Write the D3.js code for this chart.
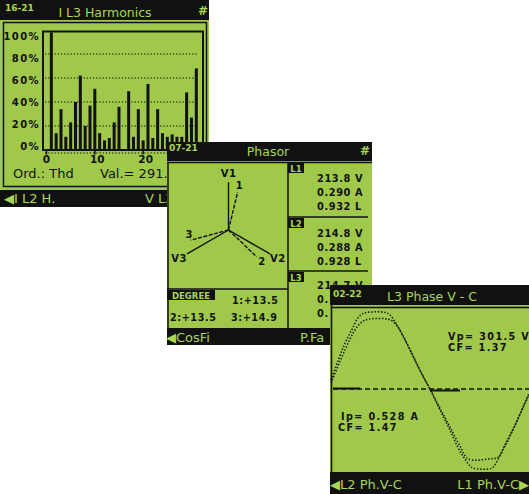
<!DOCTYPE html>
<html><head><meta charset="utf-8">
<script src="https://cdn.jsdelivr.net/npm/d3@7"></script>
<style>
html,body{margin:0;padding:0;background:#fff;}
svg{display:block;}
text{font-family:"DejaVu Sans",sans-serif;}
</style></head><body>
<svg id="c" width="529" height="494"></svg>
<script>
// ---------------- DATA ----------------
// Screen 1: current harmonics
const harmonicOrders = d3.range(1, 32);
const harmonicValues = [98,14,34,11,23,40,62,20,37,51,14,8,10,23,36,0,49,11,34,8,55,10,34,14,11,13,11,11,48,27,68];
const yTicks = [0,20,40,60,80,100];
const yTickLabels = ["0%","20%","40%","60%","80%","100%"];
const xTicks = [0,10,20];
const xTickLabels = ["0","10","20"];

// Screen 2: phasor
const phaseNames = ["1","2","3"];
const voltageAngles = [90,-30,210];
const voltageValues = [213.8,214.8,214.7];
const currentValues = [0.290,0.288,0.291];
const pfValues = [0.932,0.928,0.930];
const currentLag = [13.5,13.5,14.9];

// Screen 3: waveforms  [time ms, value]
const voltageWave = [[0,35],[0.74,114],[1.41,179],[2.09,231],[2.76,281],[3.26,296],[3.6,300],[5.45,300],[5.96,290],[6.64,251],[7.47,192],[8.15,140],[8.82,85],[9.49,35],[10.0,0],[10.68,-56],[11.34,-108],[12.02,-161],[12.7,-219],[13.36,-265],[14.04,-301],[14.37,-310],[16.23,-310],[16.74,-285],[17.4,-232],[18.08,-180],[18.76,-128],[19.42,-69],[20,-17]];
const currentWave = [[0,0.045],[1.41,0.294],[2.42,0.445],[3.1,0.505],[3.77,0.526],[5.79,0.526],[6.46,0.496],[7.14,0.422],[8.15,0.269],[8.99,0.143],[10.0,0],[11.0,-0.143],[12.02,-0.287],[13.03,-0.43],[13.87,-0.528],[15.89,-0.528],[16.9,-0.513],[17.58,-0.43],[18.28,-0.324],[19.09,-0.189],[20,-0.045]];
const vPeak = 301.5, vCF = 1.37, iPeak = 0.528, iCF = 1.47;

// ---------------- STYLE ----------------
const GREEN = "#a0c94b", LCDTXT = "#a9d655", INK = "#111";
const MONO = "'DejaVu Sans Mono',monospace";
const svg = d3.select("#c");

function txt(g, x, y, s, o = {}) {
  return g.append("text").attr("x", x).attr("y", y).text(s)
    .attr("dominant-baseline", "central")
    .attr("text-anchor", o.anchor || "start")
    .attr("font-size", o.size || 12)
    .attr("font-family", o.family || "'DejaVu Sans',sans-serif")
    .attr("font-weight", o.weight || "normal")
    .attr("letter-spacing", o.ls || 0)
    .attr("fill", o.fill || INK);
}
function line(g, x1, y1, x2, y2, w = 1.5, dash = null) {
  const l = g.append("line").attr("x1", x1).attr("y1", y1).attr("x2", x2).attr("y2", y2)
    .attr("stroke", INK).attr("stroke-width", w);
  if (dash) l.attr("stroke-dasharray", dash);
  return l;
}
function rect(g, x, y, w, h, fill) {
  return g.append("rect").attr("x", x).attr("y", y).attr("width", w).attr("height", h).attr("fill", fill);
}

// ---------------- SCREEN 1 ----------------
{
  const g = svg.append("g");
  rect(g, 0, 0, 209, 207, GREEN);
  rect(g, 0, 0, 209, 20, INK);
  rect(g, 0, 190, 209, 17, INK);
  g.append("rect").attr("x", 3.5).attr("y", 22.5).attr("width", 203).attr("height", 164)
    .attr("fill", "none").attr("stroke", INK).attr("stroke-width", 1.5);
  txt(g, 5, 8, "16-21", {size: 9, weight: "bold", fill: LCDTXT, family: MONO});
  txt(g, 105, 12, "I L3 Harmonics", {size: 12.5, anchor: "middle", fill: LCDTXT});
  txt(g, 203, 11, "#", {size: 12, anchor: "middle", weight: "bold", fill: LCDTXT});

  const y = d3.scaleLinear().domain([0, 100]).range([150, 30]);
  const yLab = d3.scaleLinear().domain([0, 100]).range([146, 36]);
  const x = d3.scaleLinear().domain([0, 31]).range([46.5, 196.3]);

  g.selectAll(".grid").data(yTicks.filter(t => t > 0 && t < 100)).enter().append("line")
    .attr("x1", 45).attr("x2", 197).attr("y1", d => y(d)).attr("y2", d => y(d))
    .attr("stroke", INK).attr("stroke-width", 1.2).attr("stroke-dasharray", "1.3,1.9");
  g.append("rect").attr("x", 43).attr("y", 31.5).attr("width", 160).attr("height", y(0) - 31.5)
    .attr("fill", "none").attr("stroke", INK).attr("stroke-width", 2);
  line(g, 45, 153, 197, 153, 1.2, "1.3,1.9");
  g.selectAll(".xt").data(xTicks).enter().append("line")
    .attr("x1", d => x(d)).attr("x2", d => x(d)).attr("y1", 150).attr("y2", 154.5)
    .attr("stroke", INK).attr("stroke-width", 1.5);
  yTicks.forEach((t, i) => txt(g, 40, yLab(t), yTickLabels[i], {size: 10, anchor: "end", weight: "bold", family: MONO, ls: 1.4}));
  xTicks.forEach((t, i) => txt(g, x(t) + (t ? 2.5 : 0), 159, xTickLabels[i], {size: 10.5, anchor: "middle", weight: "bold", family: MONO}));
  g.selectAll(".bar").data(harmonicOrders).enter().append("rect")
    .attr("x", d => x(d) - 1.5).attr("width", 3)
    .attr("y", (d, i) => y(harmonicValues[i])).attr("height", (d, i) => y(0) - y(harmonicValues[i]))
    .attr("fill", INK);

  txt(g, 13, 173, "Ord.: Thd", {size: 13});
  txt(g, 100, 173, "Val.= 291.6 %", {size: 13});
  txt(g, 4, 198, "\u25C0I L2 H.", {size: 13, fill: LCDTXT});
  txt(g, 145, 198, "V L3 H.\u25B6", {size: 13, fill: LCDTXT});
}

// ---------------- SCREEN 2 ----------------
{
  const g = svg.append("g");
  const X0 = 167, Y0 = 142, W = 205, H = 203;
  rect(g, X0, Y0, W, H, GREEN);
  rect(g, X0, Y0, W, 19, INK);
  rect(g, X0, 328, W, H - (328 - Y0), INK);
  txt(g, 169, 148, "07-21", {size: 9, weight: "bold", fill: LCDTXT, family: MONO});
  txt(g, 268, 151, "Phasor", {size: 12.5, anchor: "middle", fill: LCDTXT});
  txt(g, 365, 151, "#", {size: 12, anchor: "middle", weight: "bold", fill: LCDTXT});

  line(g, X0, 162.5, X0 + W, 162.5, 1.5);
  line(g, 168, 162, 168, 328, 1.5);
  line(g, 288, 162, 288, 328, 1.5);
  line(g, 167, 289, 288, 289, 1.5);
  line(g, 288, 217, 368, 217, 1.5);
  line(g, 288, 271, 368, 271, 1.5);

  const cx = 228.5, cy = 230;
  const rV = d3.scaleLinear().domain([0, 215]).range([0, 48]);
  const rI = d3.scaleLinear().domain([0, 0.29]).range([0, 39]);
  const rad = a => a * Math.PI / 180;
  phaseNames.forEach((p, i) => {
    const aV = voltageAngles[i], aI = voltageAngles[i] - currentLag[i];
    const lv = rV(voltageValues[i]), li = rI(currentValues[i]);
    line(g, cx, cy, cx + lv * Math.cos(rad(aV)), cy - lv * Math.sin(rad(aV)), 1.4);
    line(g, cx, cy, cx + li * Math.cos(rad(aI)), cy - li * Math.sin(rad(aI)), 1.4, "4,1.5");
    const lvl = lv + 9, lil = li + 7;
    txt(g, cx + lvl * Math.cos(rad(aV)), cy - lvl * Math.sin(rad(aV)), "V" + p, {size: 10, anchor: "middle", weight: "bold", family: MONO, ls: 0.5});
    txt(g, cx + lil * Math.cos(rad(aI)) + (i === 2 ? 5 : 0), cy - lil * Math.sin(rad(aI)) - (i === 2 ? 8 : 0), p, {size: 10, anchor: "middle", weight: "bold", family: MONO});
  });

  rect(g, 167, 290, 48, 10, INK);
  txt(g, 191, 295.5, "DEGREE", {size: 8.5, anchor: "middle", weight: "bold", fill: LCDTXT, family: MONO});
  txt(g, 232, 300, "1:+" + currentLag[0].toFixed(1), {size: 9.6, weight: "bold", family: MONO, ls: 0.6});
  txt(g, 170, 317, "2:+" + currentLag[1].toFixed(1), {size: 9.6, weight: "bold", family: MONO, ls: 0.6});
  txt(g, 231, 317, "3:+" + currentLag[2].toFixed(1), {size: 9.6, weight: "bold", family: MONO, ls: 0.6});

  const secTop = [163, 218, 272];
  phaseNames.forEach((p, i) => {
    rect(g, 288, secTop[i], 16, 10, INK);
    txt(g, 296, secTop[i] + 5.5, "L" + p, {size: 8.5, anchor: "middle", weight: "bold", fill: LCDTXT, family: MONO});
    const rows = [voltageValues[i].toFixed(1) + " V", currentValues[i].toFixed(3) + " A", pfValues[i].toFixed(3) + " L"];
    rows.forEach((r, j) => {
      // rows of L3 lie under the third screen: only the visible part is written
      const s = (i === 2 && j > 0) ? r.slice(0, 2) : r;
      txt(g, 317, secTop[i] + (i === 2 ? 13 : 15) + j * 14, s, {size: 9.8, weight: "bold", family: MONO, ls: 0.6});
    });
  });

  txt(g, 166, 337, "\u25C0CosFi", {size: 13, fill: LCDTXT});
  txt(g, 300, 337, "P.Fa", {size: 13, fill: LCDTXT});
}

// ---------------- SCREEN 3 ----------------
{
  const g = svg.append("g");
  const X0 = 330, Y0 = 285;
  rect(g, X0, Y0, 529 - X0, 494 - Y0, GREEN);
  rect(g, X0, Y0, 529 - X0, 20, INK);
  rect(g, X0, 472, 529 - X0, 22, INK);
  line(g, 331.5, 305, 331.5, 472, 1.6);
  line(g, 331, 307.5, 529, 307.5, 1.6);
  txt(g, 333, 294, "02-22", {size: 9, weight: "bold", fill: LCDTXT, family: MONO});
  txt(g, 432, 296, "L3 Phase V - C", {size: 12.5, anchor: "middle", fill: LCDTXT});

  const x = d3.scaleLinear().domain([0, 20]).range([331, 529]);
  const yv = d3.scaleLinear().domain([-vPeak, vPeak]).range([389 + 77, 389 - 77]);
  const yi = d3.scaleLinear().domain([-iPeak, iPeak]).range([389 + 70, 389 - 70]);

  line(g, 333, 389, 529, 389, 1.5, "5,3");
  line(g, 333, 388.5, 360, 388.5, 2);
  line(g, 430, 390.5, 460, 390.5, 2);

  const lv = d3.line().x(d => x(d[0])).y(d => yv(d[1])).curve(d3.curveCatmullRom);
  const li = d3.line().x(d => x(d[0])).y(d => yi(d[1])).curve(d3.curveCatmullRom);
  g.append("path").attr("d", lv(voltageWave)).attr("fill", "none").attr("stroke", INK)
    .attr("stroke-width", 1.5).attr("stroke-dasharray", "1.4,1.8");
  g.append("path").attr("d", li(currentWave)).attr("fill", "none").attr("stroke", INK)
    .attr("stroke-width", 1.5).attr("stroke-dasharray", "1.4,1.8");

  const o = {size: 9.6, weight: "bold", family: MONO, ls: 1.4};
  txt(g, 448, 336.5, "Vp= " + vPeak.toFixed(1) + " V", o);
  txt(g, 448, 347, "CF= " + vCF.toFixed(2), o);
  txt(g, 341, 416.5, "Ip= " + iPeak.toFixed(3) + " A", o);
  txt(g, 338, 427, "CF= " + iCF.toFixed(2), o);

  txt(g, 330, 484, "\u25C0L2 Ph.V-C", {size: 13, fill: LCDTXT});
  txt(g, 529, 484, "L1 Ph.V-C\u25B6", {size: 13, anchor: "end", fill: LCDTXT});
}
</script>
</body></html>
